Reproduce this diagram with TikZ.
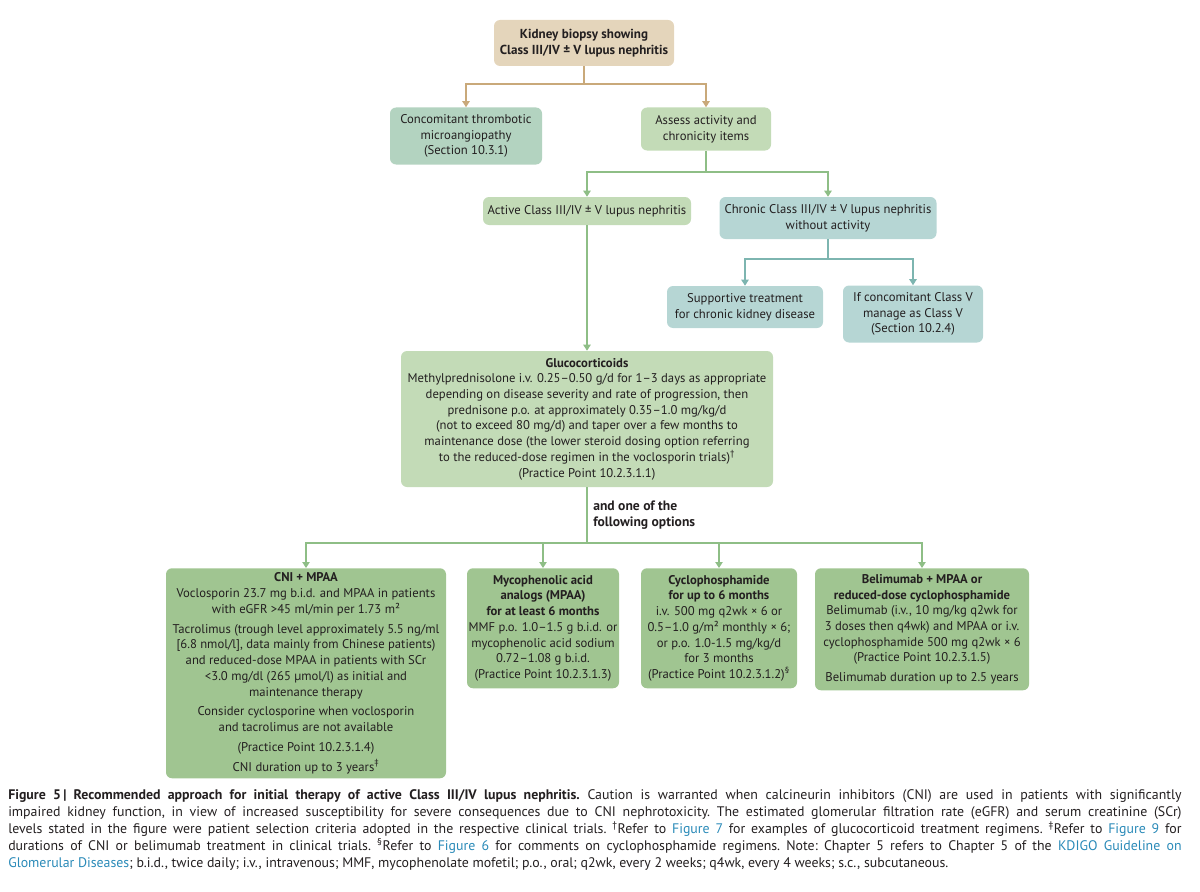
\documentclass[tikz,border=0pt]{standalone}
\usepackage{fontspec}
\setmainfont{PT Sans}
\usetikzlibrary{arrows.meta}
\definecolor{ink}{HTML}{231F20}
\definecolor{tanfill}{HTML}{E4D5BB}
\definecolor{tanline}{HTML}{C9A97A}
\definecolor{tmafill}{HTML}{B3D3C0}
\definecolor{lightgreen}{HTML}{C3DBB7}
\definecolor{tealfill}{HTML}{B6D6D4}
\definecolor{tealline}{HTML}{7DB5B0}
\definecolor{greenline}{HTML}{8EBE86}
\definecolor{optfill}{HTML}{A0C591}
\definecolor{linkblue}{HTML}{2A8AB8}

\begin{document}
\begin{tikzpicture}[x=0.75pt, y=-0.75pt,
  box/.style={rounded corners=4.5pt, align=center, inner sep=0pt, text=ink,
    font=\fontsize{9.5}{11.8}\selectfont},
  sz/.style 2 args={minimum width=#1*0.75pt, minimum height=#2*0.75pt},
  tanbox/.style={box, fill=tanfill},
  tealbox/.style={box, fill=tealfill},
  greenbox/.style={box, fill=lightgreen},
  optbox/.style={box, fill=optfill},
  tip/.style={-{Triangle[width=5.5pt,length=4.5pt]}},
  conn/.style={line width=1.1pt}]
  \useasboundingbox (0,0) rectangle (1200,892);

  % upper tree
  \node[tanbox, sz={180}{46}, font=\fontsize{9.8}{12}\bfseries] (biopsy) at (584,43)
    {Kidney biopsy showing\\Class III/IV ± V lupus nephritis};
  \node[box, fill=tmafill, sz={152}{57}] (tma) at (466,136)
    {Concomitant thrombotic\\microangiopathy\\(Section 10.3.1)};
  \node[greenbox, sz={130}{43}] (assess) at (706,129)
    {Assess activity and\\chronicity items};
  \node[greenbox, sz={208}{28}] (active) at (587,211)
    {Active Class III/IV ± V lupus nephritis};
  \node[tealbox, sz={217}{42}] (chronic) at (828,218)
    {Chronic Class III/IV ± V lupus nephritis\\without activity};
  \node[tealbox, sz={156}{42}] (supp) at (745,307)
    {Supportive treatment\\for chronic kidney disease};
  \node[tealbox, sz={140}{57}] (classv) at (913,314)
    {If concomitant Class V\\manage as Class V\\(Section 10.2.4)};

  \node[greenbox, sz={372}{136}] (gluco) at (587,419)
    {\textbf{Glucocorticoids}\\
     Methylprednisolone i.v. 0.25–0.50 g/d for 1–3 days as appropriate\\
     depending on disease severity and rate of progression, then\\
     prednisone p.o. at approximately 0.35–1.0 mg/kg/d\\
     (not to exceed 80 mg/d) and taper over a few months to\\
     maintenance dose (the lower steroid dosing option referring\\
     to the reduced-dose regimen in the voclosporin trials)\textsuperscript{†}\\
     (Practice Point 10.2.3.1.1)};
  \node[anchor=north west, align=left, inner sep=0pt, text=ink,
    font=\fontsize{10.2}{12}\bfseries] (opts) at (593,501)
    {and one of the\\following options};

  % options
  \node[optbox, sz={280}{210}, anchor=north] (cni) at (306,568)
    {\textbf{CNI + MPAA}\\
     Voclosporin 23.7 mg b.i.d. and MPAA in patients\\
     with eGFR >45 ml/min per 1.73 m²\\[3pt]
     Tacrolimus (trough level approximately 5.5 ng/ml\\
     {[}6.8 nmol/l{]}, data mainly from Chinese patients)\\
     and reduced-dose MPAA in patients with SCr\\
     <3.0 mg/dl (265 µmol/l) as initial and\\
     maintenance therapy\\[3pt]
     Consider cyclosporine when voclosporin\\
     and tacrolimus are not available\\[3pt]
     (Practice Point 10.2.3.1.4)\\[3pt]
     CNI duration up to 3 years\textsuperscript{‡}};
  \node[optbox, sz={152}{120}, anchor=north] (mpaa) at (543,568)
    {\textbf{Mycophenolic acid}\\
     \textbf{analogs (MPAA)}\\
     \textbf{for at least 6 months}\\
     MMF p.o. 1.0–1.5 g b.i.d. or\\
     mycophenolic acid sodium\\
     0.72–1.08 g b.i.d.\\
     (Practice Point 10.2.3.1.3)};
  \node[optbox, sz={156}{120}, anchor=north] (cyclo) at (719,568)
    {\textbf{Cyclophosphamide}\\
     \textbf{for up to 6 months}\\
     i.v. 500 mg q2wk × 6 or\\
     0.5–1.0 g/m² monthly × 6;\\
     or p.o. 1.0-1.5 mg/kg/d\\
     for 3 months\\
     (Practice Point 10.2.3.1.2)\textsuperscript{§}};
  \node[optbox, sz={214}{122}, anchor=north] (beli) at (922,568)
    {\textbf{Belimumab + MPAA or}\\
     \textbf{reduced-dose cyclophosphamide}\\
     Belimumab (i.v., 10 mg/kg q2wk for\\
     3 doses then q4wk) and MPAA or i.v.\\
     cyclophosphamide 500 mg q2wk × 6\\
     (Practice Point 10.2.3.1.5)\\[3pt]
     Belimumab duration up to 2.5 years};

  % connectors
  \coordinate (jbiopsy) at (584,84);
  \coordinate (jassess) at (706,172);
  \coordinate (jchronic) at (828,259);
  \coordinate (jgluco) at (587,543);
  \draw[conn, tanline] (biopsy) -- (jbiopsy);
  \draw[conn, tanline, tip] (jbiopsy) -| (tma);
  \draw[conn, tanline, tip] (jbiopsy) -| (assess);
  \draw[conn, greenline] (assess) -- (jassess);
  \draw[conn, greenline, tip] (jassess) -| (active);
  \draw[conn, greenline, tip] (jassess) -| (chronic);
  \draw[conn, tealline] (chronic) -- (jchronic);
  \draw[conn, tealline, tip] (jchronic) -| (supp);
  \draw[conn, tealline, tip] (jchronic) -| (classv);
  \draw[conn, greenline, tip] (active) -- (gluco);
  \draw[conn, greenline] (gluco) -- (jgluco);
  \foreach \opt in {cni,mpaa,cyclo,beli}
    \draw[conn, greenline, tip] (jgluco) -| (\opt);

  \node[anchor=north west, text width=880pt, align=justify, inner sep=0pt,
    text=ink, font=\fontsize{10.4}{12.75}\selectfont\frenchspacing] (caption) at (8,789)
    {\textbf{Figure 5\,|\ Recommended approach for initial therapy of active Class III/IV lupus nephritis.}
     Caution is warranted when calcineurin inhibitors (CNI) are used in patients with significantly\linebreak
     impaired kidney function, in view of increased susceptibility for severe consequences due to CNI nephrotoxicity. The estimated glomerular filtration rate (eGFR) and serum creatinine (SCr)\linebreak
     levels stated in the figure were patient selection criteria adopted in the respective clinical trials. \textsuperscript{†}Refer to \textcolor{linkblue}{Figure 7} for examples of glucocorticoid treatment regimens. \textsuperscript{‡}Refer to \textcolor{linkblue}{Figure 9} for\linebreak
     durations of CNI or belimumab treatment in clinical trials. \textsuperscript{§}Refer to \textcolor{linkblue}{Figure 6} for comments on cyclophosphamide regimens. Note: Chapter 5 refers to Chapter 5 of the \textcolor{linkblue}{KDIGO Guideline on}\linebreak
     \textcolor{linkblue}{Glomerular Diseases}; b.i.d., twice daily; i.v., intravenous; MMF, mycophenolate mofetil; p.o., oral; q2wk, every 2 weeks; q4wk, every 4 weeks; s.c., subcutaneous.};
\end{tikzpicture}
\end{document}
